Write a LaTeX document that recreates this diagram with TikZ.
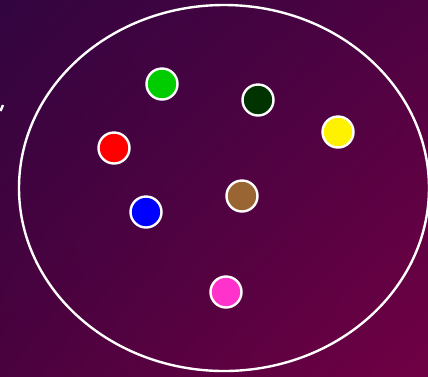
\documentclass[tikz,border=0pt]{standalone}
\usetikzlibrary{positioning,shadings}

\definecolor{bgul}{RGB}{50,5,64}
\definecolor{bgur}{RGB}{78,2,66}
\definecolor{bgll}{RGB}{74,2,62}
\definecolor{bglr}{RGB}{112,0,68}
\definecolor{dotpink}{RGB}{255,51,204}
\definecolor{dotbrown}{RGB}{153,102,51}
\definecolor{dotdark}{RGB}{0,51,0}
\definecolor{dotgreen}{RGB}{0,204,0}

\begin{document}
\begin{tikzpicture}[x=1pt,y=-1pt]

 \tikzset{
    dot/.style = {circle, draw=white, line width=2.4pt, minimum size=31pt, inner sep=0pt},
    ring/.style = {draw=white, line width=2.4pt}
}

\shade [upper left=bgul, upper right=bgur, lower left=bgll, lower right=bglr] (0,0) rectangle (428,376);
\useasboundingbox (0,0) rectangle (428,376);

\draw [ring] (224,188) ellipse [x radius=205pt, y radius=183pt];

\draw [white, line width=2.4pt] (0.5,111) -- (3,105);

\node [dot, fill=dotgreen] (green) at (162,84) {};
\node [dot, fill=dotdark] (darkgreen) at (258,100) {};
\node [dot, fill=yellow] (yellow) at (338,132) {};
\node [dot, fill=red] (red) at (114,148) {};
\node [dot, fill=dotbrown] (brown) at (242,196) {};
\node [dot, fill=blue] (blue) at (146,212) {};
\node [dot, fill=dotpink] (pink) at (226,292) {};
\end{tikzpicture}
\end{document}
